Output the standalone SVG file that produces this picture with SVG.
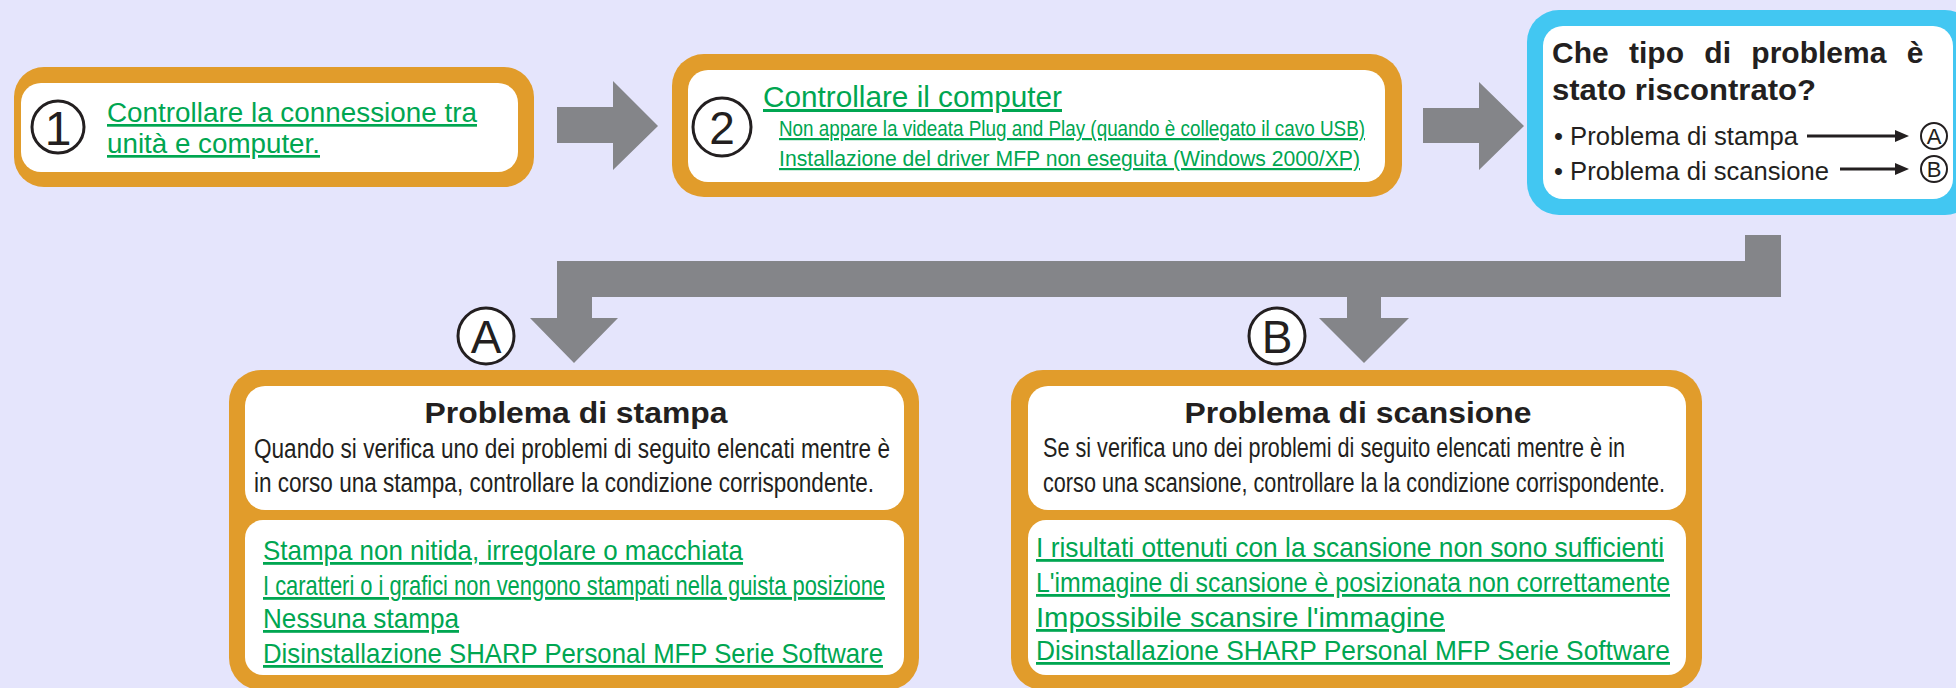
<svg xmlns="http://www.w3.org/2000/svg" width="1956" height="688" viewBox="0 0 1956 688">
<defs>
<style>
.bg{fill:#E5E5FC}
.ob{fill:#E19C2B}
.bb{fill:#42C7F2}
.wh{fill:#FFFFFF}
.gr{fill:#848589}
.t{font-family:"Liberation Sans",Arial,sans-serif;fill:#231F20}
.b{font-weight:bold}
.lk{font-family:"Liberation Sans",Arial,sans-serif;fill:#00A651;text-decoration:underline}
.ring{fill:#FFFFFF;stroke:#231F20;stroke-width:3}
.sring{fill:none;stroke:#231F20;stroke-width:2}
.ln{stroke:#231F20;stroke-width:3;fill:none}
</style>
</defs>
<rect class="bg" x="0" y="0" width="1956" height="688"/>

<g id="connectors">
  <polygon class="gr" points="557,107 613,107 613,81 658,126 613,170 613,143 557,143"/>
  <polygon class="gr" points="1423,108 1479,108 1479,82 1524,126 1479,170 1479,143 1423,143"/>
  <polygon class="gr" points="1745,235 1781,235 1781,297 1381,297 1381,318 1409,318 1364,363 1319,318 1347,318 1347,297 592,297 592,318 618,318 574,363 530,318 557,318 557,261 1745,261"/>
  <g id="label-A">
    <circle class="ring" cx="486" cy="336" r="28"/>
    <text class="t" x="486" y="353" font-size="46" text-anchor="middle">A</text>
  </g>
  <g id="label-B">
    <circle class="ring" cx="1277" cy="336" r="28"/>
    <text class="t" x="1277" y="353" font-size="46" text-anchor="middle">B</text>
  </g>
</g>

<g id="step1">
  <rect class="ob" x="14" y="67" width="520" height="120" rx="30"/>
  <rect class="wh" x="21" y="83" width="497" height="89" rx="20"/>
  <circle class="ring" cx="58" cy="127" r="26"/>
  <text class="t" x="58" y="145" font-size="48" text-anchor="middle">1</text>
  <text class="lk" x="107" y="122" font-size="27" textLength="370" lengthAdjust="spacingAndGlyphs">Controllare la connessione tra</text>
  <text class="lk" x="107" y="153" font-size="27" textLength="213" lengthAdjust="spacingAndGlyphs">unità e computer.</text>
</g>

<g id="step2">
  <rect class="ob" x="672" y="54" width="730" height="143" rx="32"/>
  <rect class="wh" x="688" y="70" width="697" height="112" rx="20"/>
  <circle class="ring" cx="722" cy="127" r="29"/>
  <text class="t" x="722" y="144" font-size="46" text-anchor="middle">2</text>
  <text class="lk" x="763" y="107" font-size="30" textLength="299" lengthAdjust="spacingAndGlyphs">Controllare il computer</text>
  <text class="lk" x="779" y="136" font-size="22" textLength="586" lengthAdjust="spacingAndGlyphs">Non appare la videata Plug and Play (quando è collegato il cavo USB)</text>
  <text class="lk" x="779" y="166" font-size="22" textLength="581" lengthAdjust="spacingAndGlyphs">Installazione del driver MFP non eseguita (Windows 2000/XP)</text>
</g>

<g id="question">
  <rect class="bb" x="1527" y="10" width="450" height="205" rx="32"/>
  <rect class="wh" x="1543" y="26" width="410" height="173" rx="20"/>
  <text class="t b" x="1552" y="63" font-size="30" word-spacing="12">Che tipo di problema è</text>
  <text class="t b" x="1552" y="100" font-size="30" textLength="264" lengthAdjust="spacingAndGlyphs">stato riscontrato?</text>
  <text class="t" x="1554" y="145" font-size="26" textLength="244" lengthAdjust="spacingAndGlyphs">• Problema di stampa</text>
  <text class="t" x="1554" y="180" font-size="26" textLength="275" lengthAdjust="spacingAndGlyphs">• Problema di scansione</text>
  <line class="ln" x1="1807" y1="136" x2="1898" y2="136"/>
  <polygon fill="#231F20" points="1895,130 1909,136 1895,142"/>
  <line class="ln" x1="1840" y1="169" x2="1898" y2="169"/>
  <polygon fill="#231F20" points="1895,163 1909,169 1895,175"/>
  <circle class="sring" cx="1934" cy="136" r="13"/>
  <text class="t" x="1934" y="144" font-size="22" text-anchor="middle">A</text>
  <circle class="sring" cx="1934" cy="169" r="13"/>
  <text class="t" x="1934" y="177" font-size="22" text-anchor="middle">B</text>
</g>

<g id="print-problem">
  <rect class="ob" x="229" y="370" width="690" height="320" rx="32"/>
  <rect class="wh" x="245" y="386" width="659" height="124" rx="20"/>
  <rect class="wh" x="245" y="520" width="659" height="155" rx="18"/>
  <text class="t b" x="576" y="423" font-size="30" text-anchor="middle" textLength="303" lengthAdjust="spacingAndGlyphs">Problema di stampa</text>
  <text class="t" x="254" y="458" font-size="27" textLength="636" lengthAdjust="spacingAndGlyphs">Quando si verifica uno dei problemi di seguito elencati mentre è</text>
  <text class="t" x="254" y="492" font-size="27" textLength="620" lengthAdjust="spacingAndGlyphs">in corso una stampa, controllare la condizione corrispondente.</text>
  <text class="lk" x="263" y="560" font-size="28" textLength="480" lengthAdjust="spacingAndGlyphs">Stampa non nitida, irregolare o macchiata</text>
  <text class="lk" x="263" y="595" font-size="28" textLength="622" lengthAdjust="spacingAndGlyphs">I caratteri o i grafici non vengono stampati nella guista posizione</text>
  <text class="lk" x="263" y="628" font-size="28" textLength="196" lengthAdjust="spacingAndGlyphs">Nessuna stampa</text>
  <text class="lk" x="263" y="663" font-size="28" textLength="620" lengthAdjust="spacingAndGlyphs">Disinstallazione SHARP Personal MFP Serie Software</text>
</g>

<g id="scan-problem">
  <rect class="ob" x="1011" y="370" width="691" height="320" rx="32"/>
  <rect class="wh" x="1028" y="386" width="658" height="124" rx="20"/>
  <rect class="wh" x="1028" y="520" width="658" height="155" rx="18"/>
  <text class="t b" x="1358" y="423" font-size="30" text-anchor="middle" textLength="347" lengthAdjust="spacingAndGlyphs">Problema di scansione</text>
  <text class="t" x="1043" y="457" font-size="27" textLength="582" lengthAdjust="spacingAndGlyphs">Se si verifica uno dei problemi di seguito elencati mentre è in</text>
  <text class="t" x="1043" y="492" font-size="27" textLength="622" lengthAdjust="spacingAndGlyphs">corso una scansione, controllare la la condizione corrispondente.</text>
  <text class="lk" x="1036" y="557" font-size="28" textLength="628" lengthAdjust="spacingAndGlyphs">I risultati ottenuti con la scansione non sono sufficienti</text>
  <text class="lk" x="1036" y="592" font-size="28" textLength="634" lengthAdjust="spacingAndGlyphs">L'immagine di scansione è posizionata non correttamente</text>
  <text class="lk" x="1036" y="627" font-size="28" textLength="409" lengthAdjust="spacingAndGlyphs">Impossibile scansire l'immagine</text>
  <text class="lk" x="1036" y="660" font-size="28" textLength="634" lengthAdjust="spacingAndGlyphs">Disinstallazione SHARP Personal MFP Serie Software</text>
</g>
</svg>
